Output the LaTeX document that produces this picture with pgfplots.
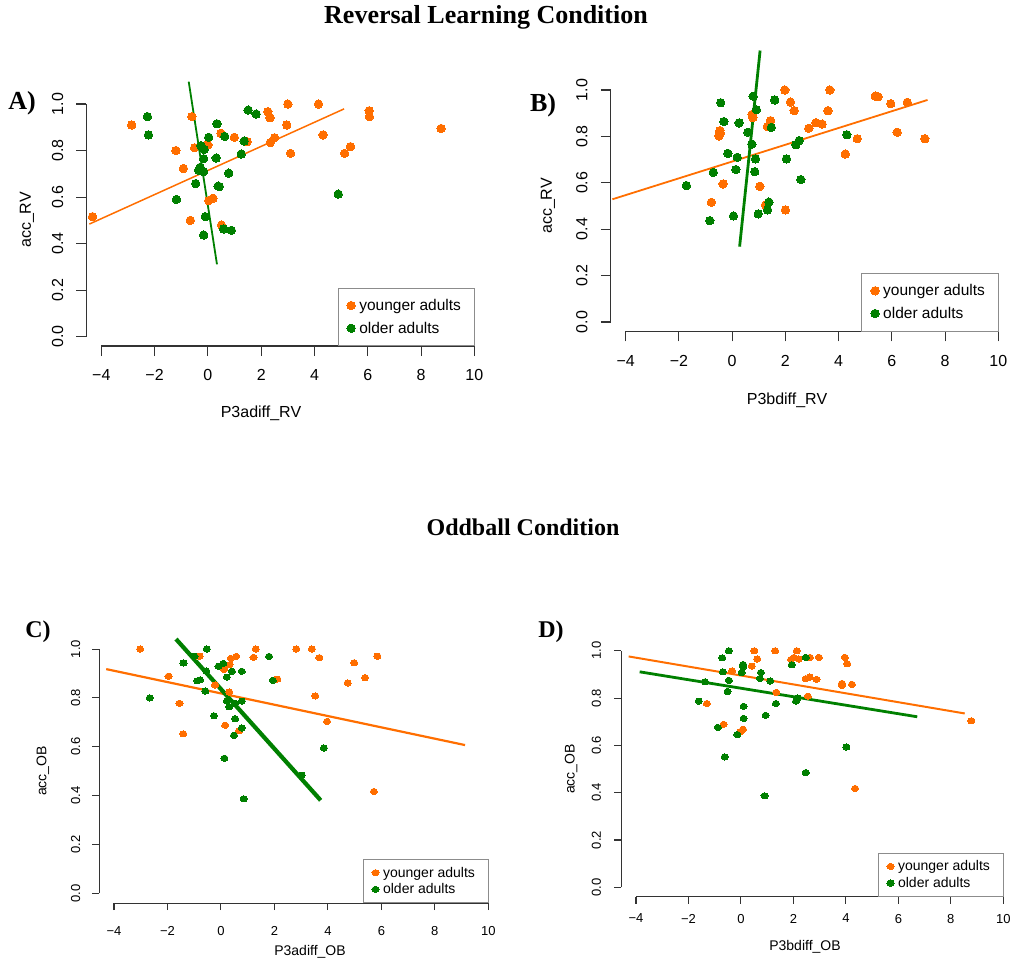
\documentclass[border=0pt]{standalone}
\usepackage{pgfplots}
\pgfplotsset{compat=1.18}
\usepackage{fontspec}
\setmainfont{Liberation Serif}
\newfontfamily\arial{Liberation Sans}
\definecolor{myorange}{RGB}{255,110,0}
\definecolor{mygreen}{RGB}{0,128,0}
\pgfplotsset{
  rbase/.style={scale only axis, clip=false, anchor=south west,
    axis x line*=bottom, axis y line*=left, axis line style={draw=none},
    tick align=outside, xmin=-4.56, xmax=10.56, ymin=-0.04, ymax=1.04,
    xtick={-4,-2,0,2,4,6,8,10}, xticklabels={−4,−2,0,2,4,6,8,10},
    ytick={0,0.2,0.4,0.6,0.8,1}, yticklabels={0.0,0.2,0.4,0.6,0.8,1.0},
    tick style={black!80, line width=1.1pt},
    yticklabel style={rotate=90, anchor=south, inner sep=0pt},
    xticklabel style={anchor=north, inner sep=0pt},
    legend cell align=left,
    legend style={at={(0.963,0)}, anchor=south east, draw=black!45, line width=0.8pt, fill=white},
  },
  rAB/.style={rbase, major tick length=10pt,
    ticklabel style={font=\arial\fontsize{16}{19}\selectfont},
    xticklabel shift=13.5pt, yticklabel shift=13pt,
    legend style={inner xsep=9pt, inner ysep=11pt, row sep=10pt, font=\arial\fontsize{15.5}{18}\selectfont,
      nodes={inner xsep=4pt, inner ysep=0pt}},
    legend image code/.code={\draw[mark repeat=2,mark phase=2,##1] plot coordinates {(0pt,0pt) (4.25pt,0pt) (8.5pt,0pt)};},
  },
  rCD/.style={rbase, major tick length=7pt,
    ticklabel style={font=\arial\fontsize{13}{15}\selectfont},
    legend style={inner xsep=9pt, inner ysep=7pt, row sep=4pt, font=\arial\fontsize{14}{16}\selectfont,
      nodes={inner xsep=4pt, inner ysep=0.5pt}},
    legend image code/.code={\draw[mark repeat=2,mark phase=2,##1] plot coordinates {(0pt,0pt) (3.5pt,0pt) (7pt,0pt)};},
  },
  ptAB/.style={only marks, mark=*, mark size=4.2pt, mark options={solid, fill=#1, draw=#1, line width=0pt}},
  ptCD/.style={only marks, mark=*, mark size=3.1pt, mark options={solid, fill=#1, draw=#1, line width=0pt, xscale=1.15}},
}
\begin{document}
\begin{tikzpicture}
\useasboundingbox (0,0) rectangle (1012pt,-962pt);

% ---------------- Panel A
\begin{axis}[rAB, at={(86.4pt,-346pt)}, width=402.9pt, height=251.3pt]
\addplot[ptAB=myorange] table {
-4.33 0.516
-2.86 0.910
-0.60 0.946
-1.20 0.800
-0.92 0.723
-0.50 0.812
0.00 0.824
-0.66 0.500
0.03 0.585
0.19 0.595
0.49 0.874
0.99 0.857
1.47 0.838
0.51 0.480
2.25 0.967
2.33 0.941
3.00 1.000
2.96 0.910
2.34 0.834
2.50 0.855
3.10 0.788
4.15 1.000
4.32 0.867
5.13 0.788
5.35 0.817
6.05 0.971
6.06 0.946
8.75 0.895
};
\addlegendentry{younger adults}
\addplot[ptAB=mygreen] table {
-2.27 0.946
-2.23 0.867
-1.18 0.590
-0.46 0.658
-0.35 0.716
-0.29 0.728
-0.16 0.709
-0.26 0.821
-0.14 0.805
-0.16 0.765
-0.10 0.516
-0.16 0.437
0.31 0.768
0.03 0.857
0.34 0.915
0.38 0.647
0.43 0.645
0.63 0.861
0.78 0.703
0.59 0.463
0.88 0.457
1.25 0.785
1.36 0.841
1.51 0.974
1.81 0.957
4.89 0.613
};
\addlegendentry{older adults}
\addplot[myorange, line width=1.5pt, forget plot] coordinates {(-4.45,0.484) (5.11,0.979)};
\addplot[mygreen, line width=1.8pt, forget plot] coordinates {(-0.72,1.096) (0.34,0.311)};
\draw[black!80, line width=1.1pt] (axis cs:-4,-0.04) -- (axis cs:10,-0.04);
\draw[black!80, line width=1.1pt] (axis cs:-4.56,0) -- (axis cs:-4.56,1);
\draw[black!80, line width=1.1pt] (axis cs:-4,-0.04) -- ++(0pt,-10pt);
\draw[black!80, line width=1.1pt] (axis cs:-2,-0.04) -- ++(0pt,-10pt);
\draw[black!80, line width=1.1pt] (axis cs:0,-0.04) -- ++(0pt,-10pt);
\draw[black!80, line width=1.1pt] (axis cs:2,-0.04) -- ++(0pt,-10pt);
\draw[black!80, line width=1.1pt] (axis cs:4,-0.04) -- ++(0pt,-10pt);
\draw[black!80, line width=1.1pt] (axis cs:6,-0.04) -- ++(0pt,-10pt);
\draw[black!80, line width=1.1pt] (axis cs:8,-0.04) -- ++(0pt,-10pt);
\draw[black!80, line width=1.1pt] (axis cs:10,-0.04) -- ++(0pt,-10pt);
\draw[black!80, line width=1.1pt] (axis cs:-4.56,0) -- ++(-10pt,0pt);
\draw[black!80, line width=1.1pt] (axis cs:-4.56,0.2) -- ++(-10pt,0pt);
\draw[black!80, line width=1.1pt] (axis cs:-4.56,0.4) -- ++(-10pt,0pt);
\draw[black!80, line width=1.1pt] (axis cs:-4.56,0.6) -- ++(-10pt,0pt);
\draw[black!80, line width=1.1pt] (axis cs:-4.56,0.8) -- ++(-10pt,0pt);
\draw[black!80, line width=1.1pt] (axis cs:-4.56,1) -- ++(-10pt,0pt);
\end{axis}

% ---------------- Panel B
\begin{axis}[rAB, at={(610.8pt,-331.3pt)}, width=402.4pt, height=250.6pt]
\addplot[ptAB=myorange] table {
-0.78 0.516
-0.34 0.595
-0.46 0.825
-0.44 0.813
-0.50 0.802
0.75 0.895
0.78 0.881
1.04 0.585
1.25 0.504
1.32 0.842
1.44 0.868
1.98 1.000
2.00 0.483
2.19 0.948
2.33 0.911
2.88 0.835
3.15 0.859
3.38 0.853
3.60 0.911
3.67 1.000
4.25 0.724
4.70 0.790
5.38 0.974
5.48 0.971
5.96 0.941
6.20 0.818
6.58 0.947
7.24 0.790
};
\addlegendentry{younger adults}
\addplot[ptAB=mygreen] table {
-1.72 0.588
-0.71 0.645
-0.84 0.437
-0.43 0.945
-0.31 0.864
-0.16 0.727
0.14 0.657
0.19 0.710
0.05 0.457
0.26 0.858
0.59 0.818
0.74 0.767
0.79 0.973
0.91 0.915
0.88 0.703
0.85 0.648
0.98 0.466
1.33 0.483
1.38 0.517
1.47 0.839
1.60 0.957
2.04 0.703
2.39 0.764
2.52 0.782
2.58 0.614
4.31 0.807
};
\addlegendentry{older adults}
\addplot[myorange, line width=1.8pt, forget plot] coordinates {(-4.5,0.529) (7.34,0.957)};
\addplot[mygreen, line width=2.8pt, forget plot] coordinates {(0.28,0.325) (1.05,1.17)};
\draw[black!80, line width=1.1pt] (axis cs:-4,-0.04) -- (axis cs:10,-0.04);
\draw[black!80, line width=1.1pt] (axis cs:-4.56,0) -- (axis cs:-4.56,1);
\end{axis}

% titles
\node[font=\bfseries\fontsize{26}{30}\selectfont] at (486pt,-17pt) {Reversal Learning Condition};
\node[font=\bfseries\fontsize{24}{28}\selectfont] at (523pt,-527pt) {Oddball Condition};
\node[font=\bfseries\fontsize{26}{30}\selectfont] at (22pt,-103pt) {A)};
\node[font=\bfseries\fontsize{26}{30}\selectfont] at (543pt,-105pt) {B)};
\node[font=\bfseries\fontsize{24}{28}\selectfont] at (38pt,-632pt) {C)};
\node[font=\bfseries\fontsize{24}{28}\selectfont] at (551pt,-632pt) {D)};

% axis labels
\node[font=\arial\fontsize{16}{19}\selectfont, rotate=90] at (27pt,-220pt) {acc\_RV};
\node[font=\arial\fontsize{16}{19}\selectfont] at (261pt,-413pt) {P3adiff\_RV};
\node[font=\arial\fontsize{16}{19}\selectfont, rotate=90] at (548pt,-206pt) {acc\_RV};
\node[font=\arial\fontsize{16}{19}\selectfont] at (787pt,-400pt) {P3bdiff\_RV};
\node[font=\arial\fontsize{14}{17}\selectfont, rotate=90] at (43pt,-771pt) {acc\_OB};
\node[font=\arial\fontsize{14}{17}\selectfont] at (310pt,-952pt) {P3adiff\_OB};
\node[font=\arial\fontsize{14}{17}\selectfont, rotate=90] at (571pt,-769pt) {acc\_OB};
\node[font=\arial\fontsize{14}{17}\selectfont] at (805pt,-947pt) {P3bdiff\_OB};

% ---------------- Panel C
\begin{axis}[rCD, at={(99pt,-903.1pt)}, width=404.3pt, height=263.8pt,
  xticklabel shift=16pt, yticklabel shift=11.5pt]
\addplot[ptCD=myorange] table {
-3.02 1.000
-1.96 0.889
-1.55 0.778
-1.41 0.653
-0.93 0.971
-0.80 0.971
-0.22 0.853
0.12 0.917
0.32 0.936
0.37 0.962
0.57 0.970
0.31 0.824
0.16 0.688
0.68 0.666
1.22 0.966
1.30 1.000
2.11 0.877
2.82 1.000
3.40 1.000
3.68 0.965
3.53 0.808
3.97 0.704
4.74 0.861
4.98 0.944
5.39 0.883
5.85 0.971
5.72 0.417
};
\addlegendentry{younger adults}
\addplot[ptCD=mygreen] table {
-2.66 0.800
-1.40 0.943
-0.99 0.971
-0.88 0.870
-0.78 0.874
-0.58 0.828
-0.53 1.000
-0.55 0.910
-0.09 0.930
0.09 0.941
0.22 0.885
0.41 0.909
0.78 0.909
-0.26 0.727
0.22 0.787
0.31 0.764
0.53 0.778
0.78 0.787
0.53 0.715
0.78 0.677
0.49 0.647
0.13 0.553
0.85 0.387
1.80 0.970
1.94 0.872
3.02 0.484
3.85 0.595
};
\addlegendentry{older adults}
\addplot[myorange, line width=2.2pt, forget plot] coordinates {(-4.29,0.918) (9.13,0.607)};
\addplot[mygreen, line width=4.2pt, forget plot] coordinates {(-1.68,1.041) (3.73,0.381)};
\draw[black!80, line width=1pt] (axis cs:-4,-0.04) -- (axis cs:10,-0.04);
\draw[black!80, line width=1pt] (axis cs:-4.56,0) -- (axis cs:-4.56,1);
\end{axis}

% ---------------- Panel D
\begin{axis}[rCD, at={(621.3pt,-896.8pt)}, width=396.7pt, height=255.5pt,
  xticklabel shift=10pt, yticklabel shift=13pt]
\addplot[ptCD=myorange] table {
-1.30 0.777
-0.66 0.689
-0.34 0.915
-0.03 0.658
0.08 0.668
0.41 0.935
0.51 1.000
0.62 0.965
1.30 1.000
1.35 0.824
1.91 0.963
2.02 0.972
2.13 1.000
2.20 0.965
2.47 0.882
2.62 0.889
2.63 0.972
2.55 0.808
2.88 0.879
2.97 0.972
3.85 0.862
3.85 0.854
4.23 0.858
3.96 0.972
4.05 0.945
4.35 0.418
8.78 0.704
};
\addlegendentry{younger adults}
\addplot[ptCD=mygreen] table {
-1.61 0.787
-1.37 0.869
-0.88 0.676
-0.71 0.970
-0.69 0.911
-0.62 0.551
-0.51 0.828
-0.46 1.000
-0.46 0.875
-0.14 0.646
0.03 0.908
0.08 0.942
0.08 0.932
0.10 0.765
0.10 0.714
0.72 0.883
0.76 0.908
0.94 0.727
0.90 0.387
1.12 0.872
1.33 0.777
1.94 0.941
2.10 0.787
2.16 0.800
2.47 0.972
2.47 0.485
4.02 0.593
};
\addlegendentry{older adults}
\addplot[myorange, line width=2pt, forget plot] coordinates {(-4.28,0.976) (8.53,0.735)};
\addplot[mygreen, line width=2.8pt, forget plot] coordinates {(-3.86,0.911) (6.72,0.721)};
\draw[black!80, line width=1pt] (axis cs:-4,-0.04) -- (axis cs:10,-0.04);
\draw[black!80, line width=1pt] (axis cs:-4.56,0) -- (axis cs:-4.56,1);
\end{axis}
\end{tikzpicture}
\end{document}
